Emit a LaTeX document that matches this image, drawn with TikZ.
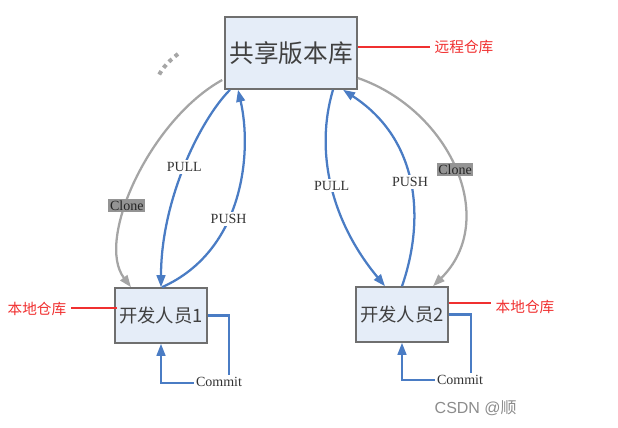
\documentclass[tikz,border=0pt]{standalone}
\usepackage{fontspec}
\setmainfont{Liberation Serif}
\newfontfamily\cjkfont{Noto Sans CJK SC}
\newfontfamily\wmfont{Liberation Sans}
\usetikzlibrary{arrows.meta,calc}
\definecolor{boxfill}{HTML}{E5EDF8}
\definecolor{boxline}{HTML}{6F6F6F}
\definecolor{flowblue}{HTML}{4A7CC4}
\definecolor{clonegray}{HTML}{A5A5A5}
\definecolor{labelgray}{HTML}{949494}
\definecolor{notered}{HTML}{F03030}
\begin{document}
\begin{tikzpicture}[x=0.75pt,y=-0.75pt,
  repo/.style={draw=boxline, line width=1.2pt, fill=boxfill, text=black!75, inner sep=0pt},
  bluearrow/.style={draw=flowblue, line width=1.7pt, -{Triangle[length=9pt,width=6.5pt]}},
  grayarrow/.style={draw=clonegray, line width=1.7pt, -{Triangle[length=9pt,width=6.5pt]}},
  flowlabel/.style={fill=white, inner sep=1.5pt, font=\fontsize{10.5}{12}\selectfont, text=black!80},
  clonelabel/.style={fill=labelgray, inner sep=1.2pt, font=\fontsize{10.5}{12}\selectfont, text=black!85},
  redline/.style={draw=notered, line width=0.8pt},
  redtext/.style={text=notered, font=\cjkfont\fontsize{11}{13}\selectfont}]
\useasboundingbox (0,0) rectangle (618,428);

% boxes
\node[repo, minimum width=99pt, minimum height=54pt, font=\cjkfont\fontsize{18.5}{20}\selectfont] (top) at (291,53) {共享版本库};
\node[repo, minimum width=69pt, minimum height=41.25pt, font=\cjkfont\fontsize{13.8}{15}\selectfont] (dev1) at (161,315.5) {开发人员1};
\node[repo, minimum width=69pt, minimum height=41.25pt, font=\cjkfont\fontsize{13.8}{15}\selectfont] (dev2) at (402,314.5) {开发人员2};

% red notes
\node[redtext, anchor=west] (remote) at (430,47) {远程仓库};
\draw[redline] ($(top.east)+(0,-6)$) -- (remote.west);
\node[redtext, anchor=east] (loc1) at (71,309) {本地仓库};
\draw[redline] ($(loc1.east)+(0,-1)$) -- ($(dev1.west)+(3,-7.5)$);
\node[redtext, anchor=west] (loc2) at (491,307) {本地仓库};
\draw[redline] ($(dev2.east)+(0,-11.5)$) -- ($(loc2.west)+(0,-4)$);

% commit loops
\coordinate (c1) at (229,383);
\draw[bluearrow] (dev1.east) -| (c1) -| (dev1.south);
\node[flowlabel] (cm1) at (219,382) {Commit};
\coordinate (c2) at (471,380);
\draw[bluearrow] (dev2.east) -| (c2) -| (dev2.south);
\node[flowlabel] (cm2) at (460,380) {Commit};

% clone / pull / push
\draw[grayarrow] ($(top.west)+(-2,27)$) .. controls (150,120) and (95,240) .. ($(dev1.north)+(-30,0)$) node[clonelabel,pos=0.6] {Clone};
\draw[bluearrow] ($(top.south)+(-61,0)$) .. controls (200,120) and (161,200) .. (dev1.north) node[flowlabel,pos=0.5] {PULL};
\draw[bluearrow] ($(dev1.north)+(1,0)$) .. controls (245,250) and (252,150) .. ($(top.south)+(-53,0)$) node[flowlabel,pos=0.4] {PUSH};
\draw[bluearrow] ($(top.south)+(42,0)$) .. controls (315,150) and (330,220) .. ($(dev2.north)+(-17,0)$) node[flowlabel,pos=0.5] {PULL};
\draw[bluearrow] (dev2.north) .. controls (425,220) and (420,140) .. ($(top.south)+(52,0)$) node[flowlabel,pos=0.5] {PUSH};
\draw[grayarrow] ($(top.east)+(0,25)$) .. controls (450,110) and (500,220) .. ($(dev2.north)+(31,0)$) node[clonelabel,pos=0.5] {Clone};

% stray marks
\draw[gray!70, line width=3pt, dash pattern=on 3pt off 3pt] (178,54) .. controls (170,60) and (162,68) .. (158,77);

% watermark
\node[font=\wmfont\fontsize{12}{14}\selectfont, text=black!45, anchor=west] (wm) at (430,408) {CSDN @{\cjkfont 顺}};
\end{tikzpicture}
\end{document}
